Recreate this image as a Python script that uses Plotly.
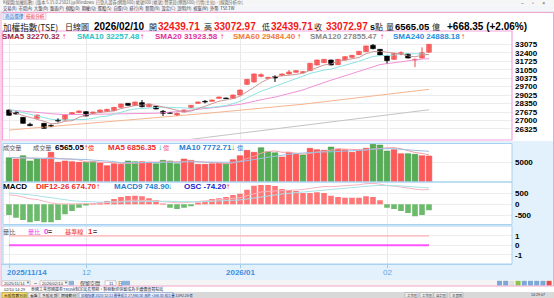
import pandas as pd
import plotly.graph_objects as go

# ---------------- data ----------------
days = [d for d in pd.bdate_range("2025-11-14", "2026-02-10") if d.strftime("%m-%d") not in ("12-25", "01-01")]
dates = [d.strftime("%Y/%m/%d") for d in days]

opens = [27838, 27652, 27254, 26696, 27174, 26775, 26616, 27041, 27041, 27519,
         27626, 27706, 27572, 27652, 27732, 27785, 28051, 28370, 28210, 28423,
         28104, 28131, 27732, 27626, 27440, 27679, 28024, 28370, 28529, 28529,
         28768, 28795, 28768, 29034, 29884, 30070, 30522, 30362, 30495, 30602,
         30708, 30841, 30814, 30973, 31425, 31611, 31824, 31452, 31824, 32036,
         32249, 32488, 32993, 32674, 32143, 31877, 32302, 32302, 31824, 31983, 32439.71]
highs = [27880, 27720, 27280, 26828, 27470, 26800, 26680, 27174, 27470, 27660,
         27800, 27740, 27700, 27860, 27920, 28070, 28340, 28400, 28500, 28635,
         28340, 28150, 27838, 27650, 27626, 27860, 28240, 28500, 28635, 28660,
         28900, 28820, 29060, 29460, 30310, 30740, 30761, 30470, 30602, 30740,
         31027, 31000, 30920, 31590, 31850, 31900, 31850, 31900, 32110, 32220,
         32540, 32960, 33100, 32700, 32170, 32380, 32515, 32330, 31930, 32833, 33072.97]
lows = [27400, 27480, 26760, 26550, 27150, 26350, 26480, 26855, 27000, 27500,
        27600, 27330, 27540, 27630, 27700, 27760, 28030, 28180, 28190, 28051,
        28080, 27900, 27360, 27550, 27360, 27660, 28000, 28350, 28370, 28510,
        28750, 28720, 28740, 29010, 29860, 30040, 30442, 30340, 30070, 30580,
        30680, 30820, 30790, 30950, 31400, 31590, 31400, 31430, 31800, 32010,
        32220, 32460, 32674, 32200, 31558, 31850, 32196, 31950, 31250, 31950, 32439.71]
closes = [27413, 27519, 26775, 26590, 27440, 26377, 26510, 26962, 27440, 27626,
          27759, 27360, 27679, 27838, 27891, 28051, 28317, 28210, 28476, 28104,
          28317, 27918, 27572, 27572, 27572, 27838, 28210, 28476, 28476, 28635,
          28874, 28742, 29034, 29432, 30283, 30708, 30655, 30442, 30389, 30708,
          30867, 30973, 30894, 31558, 31824, 31877, 31425, 31877, 32089, 32196,
          32515, 32940, 32727, 32222, 31771, 32355, 32408, 31983, 31877, 32404.62, 33072.97]

sma5 = [27700, 27600, 27400, 27250, 27147, 26940, 26738, 26776, 26946, 26983,
        27259, 27429, 27573, 27652, 27705, 27764, 27955, 28061, 28189, 28232,
        28285, 28205, 28077, 27897, 27790, 27694, 27753, 27934, 28114, 28327,
        28534, 28641, 28752, 28943, 29273, 29640, 30022, 30304, 30495, 30580,
        30612, 30676, 30766, 31000, 31223, 31425, 31516, 31712, 31818, 31893,
        32020, 32323, 32493, 32520, 32435, 32403, 32297, 32148, 32079, 32206, 32270.32]
sma10 = [27890, 27760, 27640, 27520, 27380, 27240, 27100, 27050, 27060, 27065,
         27100, 27084, 27175, 27299, 27344, 27512, 27692, 27817, 27921, 27969,
         28025, 28080, 28069, 28043, 28011, 27990, 27979, 28006, 28006, 28059,
         28114, 28197, 28343, 28529, 28800, 29087, 29332, 29528, 29719, 29927,
         30126, 30349, 30535, 30748, 30902, 31019, 31096, 31239, 31409, 31558,
         31723, 31920, 32103, 32169, 32164, 32212, 32310, 32321, 32300, 32321, 32257.48]
sma20 = [27840, 27800, 27750, 27700, 27650, 27600, 27540, 27490, 27470, 27470,
         27480, 27490, 27500, 27510, 27520, 27520, 27520, 27520, 27515, 27517,
         27563, 27582, 27622, 27671, 27678, 27751, 27836, 27912, 27964, 28014,
         28070, 28139, 28206, 28286, 28406, 28539, 28656, 28767, 28863, 28993,
         29120, 29273, 29439, 29639, 29851, 30053, 30214, 30384, 30564, 30743,
         30925, 31135, 31319, 31459, 31533, 31616, 31703, 31780, 31855, 31900, 31923.58]
sma60 = [26240, 26290, 26335, 26380, 26430, 26475, 26520, 26570, 26615, 26660,
         26710, 26760, 26810, 26855, 26905, 26950, 27000, 27050, 27095, 27140,
         27190, 27235, 27280, 27325, 27370, 27420, 27465, 27515, 27560, 27610,
         27660, 27710, 27760, 27810, 27860, 27910, 27955, 28000, 28050, 28110,
         28170, 28235, 28300, 28365, 28430, 28495, 28560, 28625, 28690, 28755,
         28820, 28890, 28960, 29030, 29100, 29165, 29230, 29295, 29360, 29420, 29484.40]
sma120 = [23700, 23770, 23840, 23910, 23980, 24050, 24120, 24190, 24260, 24330,
          24400, 24470, 24540, 24610, 24680, 24750, 24820, 24890, 24960, 25030,
          25100, 25170, 25240, 25310, 25380, 25450, 25520, 25590, 25660, 25730,
          25800, 25870, 25940, 26010, 26080, 26150, 26220, 26290, 26360, 26430,
          26500, 26570, 26640, 26710, 26780, 26850, 26920, 26990, 27060, 27130,
          27200, 27265, 27330, 27395, 27460, 27525, 27590, 27655, 27720, 27790, 27855.47]

volume = [6140, 5800, 6650, 5290, 5970, 5970, 7520, 4960, 5290, 5120,
          4960, 4960, 5120, 4780, 4090, 4600, 4440, 5290, 5120, 5120,
          4960, 4600, 5460, 5290, 4600, 5800, 5460, 4440, 4440, 4600,
          4780, 4600, 5630, 6650, 8020, 7520, 8700, 7690, 7400, 6310,
          7520, 7000, 6820, 8540, 8190, 8020, 8870, 8360, 8190, 7520,
          8020, 8540, 9560, 9380, 7840, 8190, 7160, 7160, 7000, 6650, 6565.05]
vol_up = "gryggrrrrrrggrrrrggrrggggrrrrrrgrrrrgggrrrgrrrgrrrrrgggrrggrr"
vol_ma5 = [6200, 6100, 6150, 6000, 5970, 5936, 6280, 5942, 5942, 5772,
           5570, 5058, 5090, 4988, 4782, 4710, 4606, 4640, 4708, 4914,
           4986, 5018, 5052, 5086, 4982, 5150, 5322, 5118, 4948, 4948,
           4744, 4572, 4810, 5252, 5936, 6484, 7304, 7716, 7866, 7524,
           7524, 7184, 7010, 7238, 7614, 7714, 8088, 8396, 8326, 8192,
           8192, 8126, 8366, 8604, 8668, 8702, 8426, 7946, 7470, 7232, 6856.35]
vol_ma10 = [6200, 6150, 6100, 6050, 6000, 5980, 6000, 5990, 5970, 5871,
            5753, 5669, 5516, 5465, 5277, 5140, 4832, 4865, 4848, 4848,
            4848, 4812, 4846, 4897, 4948, 5068, 5170, 5085, 5017, 4965,
            4947, 4947, 4964, 5100, 5442, 5614, 5938, 6263, 6559, 6730,
            7004, 7244, 7363, 7552, 7569, 7619, 7636, 7703, 7782, 7903,
            7953, 8107, 8381, 8465, 8430, 8447, 8276, 8156, 8037, 7950, 7772.71]

dif = [430, 400, 330, 250, 220, 130, 60, 20, 10, 15,
       30, 20, 30, 50, 70, 100, 140, 160, 190, 180,
       185, 160, 120, 90, 70, 70, 95, 130, 150, 175,
       210, 225, 255, 300, 390, 490, 560, 590, 600, 620,
       640, 660, 670, 720, 770, 810, 800, 820, 840, 860,
       890, 940, 950, 920, 850, 830, 800, 740, 690, 660, 674.70]
macd9 = [520, 500, 470, 430, 390, 340, 290, 240, 200, 165,
         140, 120, 105, 100, 100, 105, 110, 120, 135, 145,
         155, 155, 150, 140, 125, 115, 110, 115, 120, 130,
         145, 160, 180, 200, 240, 290, 340, 390, 430, 470,
         500, 530, 560, 590, 630, 660, 690, 720, 745, 770,
         795, 820, 845, 860, 860, 850, 835, 810, 780, 760, 748.90]
osc_bar = [-485, -607, -713, -820, -758, -820, -820, -713, -455, -303,
           -152, -60, 15, 76, 152, 243, 334, 380, 394, 364,
           273, 182, 30, -152, -212, -152, -91, 76, 152, 243,
           273, 334, 425, 485, 667, 849, 880, 880, 835, 697,
           652, 607, 516, 516, 546, 516, 394, 334, 303, 303,
           303, 364, 334, 182, -152, -212, -303, -394, -546, -485, -273]

ratio = [0] * 61
baseline = [1] * 61

price_ticks = [26325, 27000, 27675, 28350, 29025, 29700, 30375, 31050, 31725, 32400, 33075]
vol_ticks = [5000]
macd_ticks = [-500, 0, 500]
ratio_ticks = [-1, 0, 1]
month_idx = [0, 11, 33, 54]
month_labels = ["2025/11/14", "12", "2026/01", "02"]

# ---------------- helpers ----------------
W, H = 554, 298
def px(x): return x / W
def py(y): return 1 - y / H

XL, XR = 3, 512
month_dates = [dates[i] for i in month_idx]
XRANGE = [-(9 - XL) / 7, (XR - 9) / 7]

fig = go.Figure()

# candles
body_base, body_h, body_col, body_line = [], [], [], []
wx_up, wy_up, wx_dn, wy_dn = [], [], [], []
for d, o, h, l, c in zip(dates, opens, highs, lows, closes):
    up = c >= o
    lo, hi = min(o, c), max(o, c)
    hgt = max(hi - lo, 45)
    body_base.append(lo)
    body_h.append(hgt)
    body_col.append("#ff6b6b" if up else "#000000")
    body_line.append("#f04848" if up else "#000000")
    if up:
        wx_up += [d, d, None]; wy_up += [l, h, None]
    else:
        wx_dn += [d, d, None]; wy_dn += [l, h, None]

for nm, ys, col in [("SMA120", sma120, "#c4c4c4"), ("SMA60", sma60, "#f7b48e"),
                    ("SMA20", sma20, "#f192d6"), ("SMA10", sma10, "#8fe3e3"),
                    ("SMA5", sma5, "#c99a9a")]:
    fig.add_trace(go.Scatter(x=dates, y=ys, mode="lines", line=dict(color=col, width=1),
                             xaxis="x", yaxis="y", hoverinfo="skip"))
fig.add_trace(go.Scatter(x=wx_up, y=wy_up, mode="lines", line=dict(color="#f04848", width=1),
                         xaxis="x", yaxis="y", hoverinfo="skip"))
fig.add_trace(go.Scatter(x=wx_dn, y=wy_dn, mode="lines", line=dict(color="#000000", width=1),
                         xaxis="x", yaxis="y", hoverinfo="skip"))
fig.add_trace(go.Bar(x=dates, y=body_h, base=body_base, width=0.68,
                     marker=dict(color=body_col, line=dict(color=body_line, width=0.6)),
                     xaxis="x", yaxis="y", hoverinfo="skip"))

# volume
vcol = ["#ff5a5a" if ch == "r" else "#56ad56" for ch in vol_up]
vline = ["#e84040" if ch == "r" else "#3f943f" for ch in vol_up]
fig.add_trace(go.Bar(x=dates, y=volume, width=0.8, marker=dict(color=vcol, line=dict(color=vline, width=0.5)),
                     xaxis="x2", yaxis="y2", hoverinfo="skip"))
fig.add_trace(go.Scatter(x=dates, y=vol_ma5, mode="lines", line=dict(color="#f4a0a8", width=1),
                         xaxis="x2", yaxis="y2", hoverinfo="skip"))
fig.add_trace(go.Scatter(x=dates, y=vol_ma10, mode="lines", line=dict(color="#9cc0e4", width=1),
                         xaxis="x2", yaxis="y2", hoverinfo="skip"))

# macd
ocol = ["#ff7676" if v >= 0 else "#6cbb6c" for v in osc_bar]
fig.add_trace(go.Bar(x=dates, y=osc_bar, width=0.8, marker=dict(color=ocol, line=dict(width=0)),
                     xaxis="x3", yaxis="y3", hoverinfo="skip"))
fig.add_trace(go.Scatter(x=dates, y=dif, mode="lines", line=dict(color="#f8b4c0", width=1),
                         xaxis="x3", yaxis="y3", hoverinfo="skip"))
fig.add_trace(go.Scatter(x=dates, y=macd9, mode="lines", line=dict(color="#a8e2ea", width=1),
                         xaxis="x3", yaxis="y3", hoverinfo="skip"))

# ratio
fig.add_trace(go.Scatter(x=dates, y=baseline, mode="lines", line=dict(color="#ffb0b0", width=1.2),
                         xaxis="x4", yaxis="y4", hoverinfo="skip"))
fig.add_trace(go.Scatter(x=dates, y=ratio, mode="lines", line=dict(color="#ff55ff", width=2),
                         xaxis="x4", yaxis="y4", hoverinfo="skip"))

# ---------------- axes ----------------
tickfont = dict(family="Liberation Sans", size=8, color="#000", weight="bold")
def xax(anchor, ticks=""):
    return dict(type="category", categoryarray=dates, range=XRANGE, domain=[px(XL), px(XR)],
                anchor=anchor, showticklabels=False, tickvals=month_dates, showgrid=True,
                gridcolor="#e9e9e9", gridwidth=1, zeroline=False, showline=False,
                ticks=ticks, ticklen=3, tickcolor="#9cc8ea", fixedrange=True)
def yax(anchor, top, bot, rng, tv, grid="#ededed"):
    return dict(domain=[py(bot), py(top)], range=rng, anchor=anchor, side="right",
                tickvals=tv, ticktext=[str(v) for v in tv], tickfont=tickfont, showgrid=True,
                gridcolor=grid, zeroline=False, showline=False, ticks="", ticklabelstandoff=2,
                fixedrange=True)

MAIN_T, MAIN_B = 39, 139
VOL_T, VOL_B = 143.5, 182
MACD_T, MACD_B = 182.5, 224.5
R_T, R_B = 226, 264

fig.update_layout(
    width=W, height=H, margin=dict(l=0, r=0, t=0, b=0),
    paper_bgcolor="#ffffff", plot_bgcolor="rgba(0,0,0,0)", showlegend=False, barmode="overlay",
    xaxis=xax("y"), xaxis2=xax("y2"), xaxis3=xax("y3"), xaxis4=xax("y4", ticks="outside"),
    yaxis=yax("x", MAIN_T, MAIN_B, [25527, 33497], price_ticks),
    yaxis2=yax("x2", VOL_T, VOL_B, [-77, 9770], vol_ticks),
    yaxis3=yax("x3", MACD_T, MACD_B, [-919, 992], macd_ticks),
    yaxis4=yax("x4", R_T, R_B, [-1.97, 2.03], ratio_ticks),
)

# ---------------- decoration ----------------
shapes = []
def rect(x0, y0, x1, y1, fill=None, line=None, lw=1, layer="below"):
    shapes.append(dict(type="rect", xref="paper", yref="paper", x0=px(x0), x1=px(x1), y0=py(y1), y1=py(y0),
                       fillcolor=fill if fill else "rgba(0,0,0,0)",
                       line=dict(color=line if line else "rgba(0,0,0,0)", width=lw if line else 0),
                       layer=layer))
def hline(x0, x1, y, col, lw=1, layer="below"):
    shapes.append(dict(type="line", xref="paper", yref="paper", x0=px(x0), x1=px(x1), y0=py(y), y1=py(y),
                       line=dict(color=col, width=lw), layer=layer))

# top chrome
rect(0, 0, 554, 5.5, fill="#f6f6f6")
rect(0, 5.5, 554, 12, fill="#f3f5f8")
hline(0, 554, 12, "#d8d8d8", 0.6)
# lower light-blue region
rect(1, 141, 553, 280, fill="#e2f1fc")
# white panels
rect(XL, VOL_T, XR, VOL_B, fill="#ffffff")
rect(XL, VOL_B, XR, MACD_B, fill="#ffffff")
rect(XL, R_T, XR, R_B, fill="#ffffff")
# bottom chrome
rect(1, 280, 553, 286, fill="#f4f4f4")
rect(0, 286, 554, 292, fill="#ffffff")
rect(0, 292, 554, 298, fill="#d9d9d9")
rect(2, 292.5, 27, 297.8, fill="#f8dc6a", line="#a08a30", lw=0.5)
rect(28, 292.5, 39, 297.8, fill="#ececec", line="#999", lw=0.5)
rect(40, 292.5, 57, 297.8, fill="#ececec", line="#999", lw=0.5)
rect(59, 292.5, 77, 297.8, fill="#ececec", line="#999", lw=0.5)
rect(79, 292.5, 173, 297.8, fill="#e8eef8", line="#6688cc", lw=0.5)
for bx in [405, 420, 434, 450]:
    rect(bx, 292.5, bx + 13, 297.8, fill="#ececec", line="#999", lw=0.5)
# date controls
rect(2, 280.8, 30, 285.4, fill="#ffffff", line="#999", lw=0.5)
rect(40, 280.8, 68, 285.4, fill="#ffffff", line="#999", lw=0.5)
rect(69, 280.8, 74, 285.4, fill="#8ab4e0")
rect(105, 280.8, 116, 285.4, fill="#ffffff", line="#999", lw=0.5)
rect(122, 280.8, 130, 285.4, fill="#8ab4e0")
for i, c in enumerate(["#7aa8d8", "#7aa8d8", "#e0e0e0", "#8bc34a", "#7aa8d8", "#7aa8d8", "#7aa8d8", "#7aa8d8", "#e05050"]):
    rect(497 + i * 6.2, 280.8, 502 + i * 6.2, 285.6, fill=c)
# tabs
rect(3, 13, 22, 19.5, fill="#e8f2ff", line="#7ea6d8", lw=0.5)
rect(24, 13, 46, 19.5, fill="#fff0f6", line="#f09ac8", lw=0.5)
# frames
rect(1, 12.5, 553.5, 286, line="#f2a6cf", lw=1, layer="above")
rect(2.5, 31, XR, 140, line="#f4a4dc", lw=1.2, layer="above")
rect(XL, VOL_T, XR, VOL_B, line="#a9d2f0", lw=1, layer="above")
rect(XL, VOL_B, XR, MACD_B, line="#a9d2f0", lw=1, layer="above")
rect(XL, R_T, XR, R_B, line="#a9d2f0", lw=1, layer="above")
hline(1, XR, R_B + 0.5, "#a9d2f0", 1, "above")
fig.update_layout(shapes=shapes)

ann = []
CJK = "Noto Sans CJK TC"
SANS = "Liberation Sans"
def T(x, y, s, color="#000", size=8, bold=False, fam=SANS, anchor="left"):
    ann.append(dict(x=px(x), y=py(y), xref="paper", yref="paper", text=f"<b>{s}</b>" if bold else s,
                    showarrow=False, xanchor=anchor, yanchor="middle", borderpad=0,
                    font=dict(family=fam, size=size, color=color)))

# title / toolbar
T(2, 2.8, "K線圖(加權指數)  [版本 5.15.0.25021]@Windows  已登入證券(網路600) 帳號600 [帳號] 營業員(網路600) 行情(主站) - [線圖分析中]", "#666", 4.2, fam=CJK)
T(520, 2.8, "–      ▫      ×", "#555", 5)
T(2, 8.8, "交易(X)  市場(A)  大盤(B)  盤面(P)  個股(D)  期權(Q)  選股(S)  自選(O)  排行(R)  新聞(N)  設定(C)  說明(H)  視窗(W)  外幣  TSE.TW", "#334", 4.2, fam=CJK)
T(3.5, 16.3, "商品選擇", "#2a64c8", 4.6, fam=CJK)
T(25, 16.3, "技術分析", "#e02a4a", 4.6, fam=CJK)

# header line
HY = 26.5
T(1.5, HY, "加權指數(TSE)", "#222", 8.6, fam=CJK)
T(63.5, HY, "日線圖", "#222", 8, fam=CJK)
T(93, HY, "2026/02/10", "#000", 10, True)
T(147.5, HY, "開", "#222", 8, fam=CJK)
T(156.5, HY, "32439.71", "#f41818", 10, True)
T(202.5, HY, "高", "#222", 8, fam=CJK)
T(212.5, HY, "33072.97", "#f41818", 10, True)
T(260.5, HY, "低", "#222", 8, fam=CJK)
T(269.5, HY, "32439.71", "#f41818", 10, True)
T(312.5, HY, "收", "#222", 8, fam=CJK)
T(324.5, HY, "33072.97", "#f41818", 10, True)
T(368.5, HY, "s", "#000", 9, True)
T(373.5, HY, "點", "#222", 8, fam=CJK)
T(384.5, HY, "量", "#222", 8, fam=CJK)
T(394, HY, "6565.05", "#000", 9.5, True)
T(431, HY, "億", "#222", 8, fam=CJK)
T(446, HY, "+668.35 (+2.06%)", "#000", 10, True)

# SMA legend
LY = 36
for x, s, col, ax in [(1, "SMA5 32270.32", "#9a2a3c", 60.5), (75.5, "SMA10 32257.48", "#2cc2c4", 139),
                      (153.5, "SMA20 31923.58", "#e0309e", 219), (231.5, "SMA60 29484.40", "#f07a34", 295.5),
                      (309.5, "SMA120 27855.47", "#8a8a8a", 378.5), (391.5, "SMA240 24888.18", "#1e8ee0", 459.5)]:
    T(x, LY, s, col, 8, True)
    T(ax, LY, "↑", "#f41818", 8, True)

# volume header
VY = 147.3
T(1.5, VY, "成交量", "#555", 6.2, fam=CJK)
T(31.5, VY, "成交量", "#555", 6.2, fam=CJK)
T(53.5, VY, "6565.05", "#000", 8, True)
T(82.5, VY, "↑", "#f41818", 8, True)
T(87, VY, "億", "#f41818", 6.2, fam=CJK)
T(106.5, VY, "MA5 6856.35", "#f02c2c", 8, True)
T(156.5, VY, "↓", "#1a9a1a", 8, True)
T(161.5, VY, "億", "#f05080", 6.2, fam=CJK)
T(177.5, VY, "MA10 7772.71", "#2a7fd0", 8, True)
T(230.5, VY, "↓", "#1a9a1a", 8, True)
T(235.5, VY, "億", "#2a7fd0", 6.2, fam=CJK)

# macd header
MY = 186.8
T(1.5, MY, "MACD", "#000", 8, True)
T(34.5, MY, "DIF12-26 674.70", "#f02c2c", 8, True)
T(95, MY, "↑", "#f41818", 8, True)
T(112.5, MY, "MACD9 748.90", "#2a7fd0", 8, True)
T(167, MY, "↓", "#1a9a1a", 8, True)
T(182.5, MY, "OSC -74.20", "#1a1ad0", 8, True)
T(224.5, MY, "↑", "#f41818", 8, True)

# ratio header
RY = 231.6
T(2, RY, "量比", "#555", 6.2, fam=CJK)
T(27, RY, "量比", "#f040f0", 6.2, fam=CJK)
T(42.5, RY, "0", "#f040f0", 8, True)
T(47, RY, "=", "#444", 7, True)
T(64, RY, "基準線", "#f02c2c", 6.2, fam=CJK)
T(87, RY, "1", "#f02c2c", 8, True)
T(91.5, RY, "=", "#444", 7, True)

# x labels
XLY = 272.6
T(5.5, XLY, month_labels[0], "#3f8ede", 8, True)
for i, lab in zip(month_idx[1:], month_labels[1:]):
    bold = "/" in lab
    T(9 + 7 * i, XLY, lab, "#3f8ede" if bold else "#5ea4e6", 8, bold, anchor="center")

# bottom chrome text
T(2.5, 283.1, "2025/11/14", "#333", 4.2)
T(24.5, 283.1, "▼", "#555", 3.8)
T(33, 283.1, "~", "#333", 5)
T(40.5, 283.1, "2026/02/10", "#333", 4.2)
T(62.5, 283.1, "▼", "#555", 3.8)
T(79, 283.1, "保留空間", "#333", 5, fam=CJK)
T(108, 283.1, "11", "#333", 4.2)
T(117, 283.1, "日", "#333", 4.6, fam=CJK)
T(2.5, 289.3, "02/10 14:29", "#333", 4)
T(30, 289.3, "泰國工業部國庫券TM35k制定延長預期，製程動態保留成為手續價值買點延", "#333", 4, fam=CJK)
T(3, 295.2, "台股指數分析", "#222", 3.8, fam=CJK)
T(29, 295.2, "看盤", "#222", 3.8, fam=CJK)
T(41, 295.2, "多股走勢", "#222", 3.8, fam=CJK)
T(60, 295.2, "期權動向", "#222", 3.8, fam=CJK)
T(80, 295.2, "加權指數 2025/12/22 最後成交 27,980.00 漲跌 +268.00 成交量 3,042.26 億", "#1a3a8a", 3.4, fam=CJK)
T(406, 295.2, "工作區", "#333", 3.4, fam=CJK)
T(421, 295.2, "工作區", "#333", 3.4, fam=CJK)
T(435, 295.2, "自訂區", "#333", 3.4, fam=CJK)
T(451, 295.2, "主畫面", "#333", 3.4, fam=CJK)
T(530, 295.2, "14:29:07", "#333", 3.6)

fig.update_layout(annotations=ann)
fig.write_html("out.html")
